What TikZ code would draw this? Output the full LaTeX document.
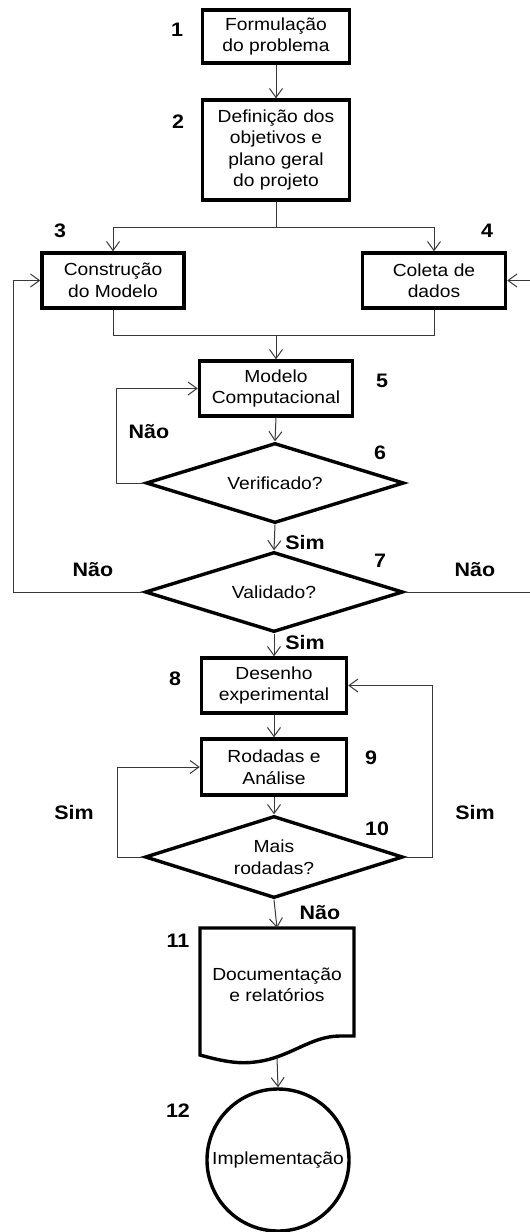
\documentclass[tikz,border=0pt]{standalone}
\usepackage{fontspec}
\setmainfont[FakeStretch=1.1]{Liberation Sans}
\usetikzlibrary{shapes.geometric,arrows.meta}
\begin{document}
\begin{tikzpicture}[x=1pt,y=-1pt,
  body/.style={font=\fontsize{17.5}{21.5}\selectfont},
  stepbox/.style={body,draw=black,line width=3.4pt,inner sep=0pt,align=center},
  decision/.style={body,diamond,aspect=3.2,draw=black,line width=3.4pt,inner sep=0pt,align=center,
    minimum width=258pt,minimum height=80pt},
  num/.style={font=\fontsize{19.5}{22}\selectfont\bfseries},
  link/.style={draw=black!78,line width=1pt},
  flow/.style={link,-{Straight Barb[length=9pt,width=13pt,line width=1pt]}}
]
\useasboundingbox (0,0) rectangle (530,1232);

% process steps
\node[stepbox,minimum width=147pt,minimum height=53pt] (b1) at (276,36.5) {Formulação\\do problema};
\node[stepbox,minimum width=147pt,minimum height=100pt] (b2) at (276,150) {Definição dos\\objetivos e\\plano geral\\do projeto};
\node[stepbox,minimum width=142pt,minimum height=55pt] (b3) at (113,280.5) {Construção\\do Modelo};
\node[stepbox,minimum width=143pt,minimum height=55pt] (b4) at (434,280.5) {Coleta de\\dados};
\node[stepbox,minimum width=153pt,minimum height=55pt] (b5) at (276,388.5) {Modelo\\Computacional};
\node[decision] (d6) at (275,483) {Verificado?};
\node[decision] (d7) at (274,592) {Validado?};
\node[stepbox,minimum width=145pt,minimum height=55pt] (b8) at (274,685.5) {Desenho\\experimental};
\node[stepbox,minimum width=145pt,minimum height=56pt] (b9) at (274,767) {Rodadas e\\Análise};
\node[decision,minimum height=82pt] (d10) at (274,857) {Mais\\rodadas?};

% document symbol with wavy lower edge
\node[body,align=center] (doc) at (277,985) {Documentação\\e relatórios};
\draw[line width=3.4pt,line join=miter]
  (354,1036) -- (354,928) -- (200,928) -- (200,1055)
  .. controls (225,1062) and (240,1064) .. (255,1062)
  .. controls (290,1058) and (310,1036) .. (340,1036) -- cycle;
\coordinate (doctop) at (277,928);
\coordinate (docbot) at (277,1057);

\node[body,circle,draw=black,line width=3.4pt,minimum size=142pt,inner sep=0pt] (b12) at (278,1160) {Implementação};

% step numbers
\node[num] (n1) at (177,30) {1};
\node[num] (n2) at (178,122) {2};
\node[num] (n3) at (60,231) {3};
\node[num] (n4) at (487,231) {4};
\node[num] (n5) at (382,381) {5};
\node[num] (n6) at (380,453) {6};
\node[num] (n7) at (380,561) {7};
\node[num] (n8) at (175,679) {8};
\node[num] (n9) at (371,758) {9};
\node[num] (n10) at (377,829) {10};
\node[num] (n11) at (178,941) {11};
\node[num] (n12) at (178,1111) {12};

% branch labels
\node[num] (l6no) at (149,432) {Não};
\node[num] (l6yes) at (305,543) {Sim};
\node[num] (l7nol) at (93,570) {Não};
\node[num] (l7nor) at (475,570) {Não};
\node[num] (l7yes) at (305,643) {Sim};
\node[num] (l10yl) at (74,813) {Sim};
\node[num] (l10yr) at (475,813) {Sim};
\node[num] (l10no) at (320,913) {Não};

% connectors
\draw[flow] (b1.south) -- (b2.north);
\coordinate (split) at (276,227);
\draw[link] (b2.south) -- (split);
\draw[flow] (split) -| (b3.north);
\draw[flow] (split) -| (b4.north);
\coordinate (merge) at (276,335);
\draw[link] (b3.south) |- (merge);
\draw[link] (b4.south) |- (merge);
\draw[flow] (merge) -- (b5.north);
\draw[flow] (b5.south) -- (d6.north);
\coordinate (v6) at (116,483);
\draw[flow] (d6.west) -- (v6) |- (b5.west);
\draw[flow] (d6.south) -- (d7.north);
\coordinate (v7l) at (13,592);
\draw[flow] (d7.west) -- (v7l) |- (b3.west);
\coordinate (v7r) at (532,592);
\draw[flow] (d7.east) -- (v7r) |- (b4.east);
\draw[flow] (d7.south) -- (b8.north);
\draw[flow] (b8.south) -- (b9.north);
\draw[flow] (b9.south) -- (d10.north);
\coordinate (v10l) at (117,857);
\draw[flow] (d10.west) -- (v10l) |- (b9.west);
\coordinate (v10r) at (432,857);
\draw[flow] (d10.east) -- (v10r) |- (b8.east);
\draw[flow] (d10.south) -- (doctop);
\draw[flow] (docbot) -- (b12.north);
\end{tikzpicture}
\end{document}
